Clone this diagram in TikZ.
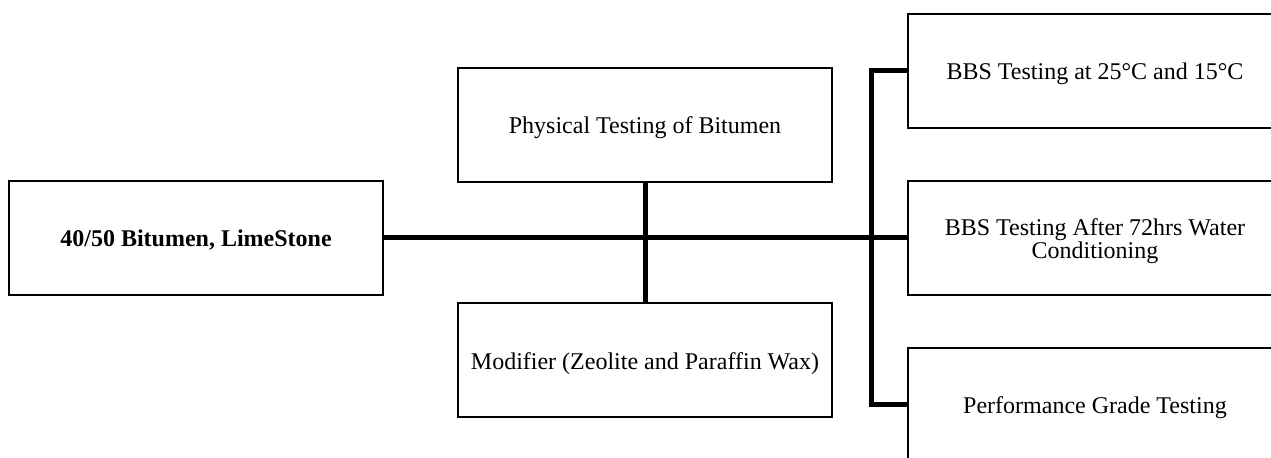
\documentclass[tikz,border=0pt]{standalone}
\usepackage{fontspec}
\setmainfont{Liberation Serif}
\usetikzlibrary{calc}

\begin{document}
\begin{tikzpicture}[x=0.5pt, y=-0.5pt, Kasten/.style={draw, line width=1pt, minimum width=187pt, minimum height=57pt, inner sep=0pt, align=center, text height=11.2pt, text depth=2.6pt, font=\fontsize{12}{11.5}\selectfont}, Linie/.style={line width=2.5pt}]
				\useasboundingbox (0,0) rectangle (1271,458);
				\coordinate (a) at (196,238);
				\node[Kasten, font=\fontsize{12}{11.5}\selectfont\bfseries] (start) at (a) {40/50 Bitumen, LimeStone};
				\coordinate (a) at ($(a) + (449,0)$);
				\node[Kasten] (m1) at ($(a) - (0,113)$) {Physical Testing of Bitumen};
				\node[Kasten] (m2) at ($(a) + (0,122.5)$) {Modifier (Zeolite and Paraffin Wax)};
				\coordinate (a) at ($(a) + (450,0)$);
				\coordinate (bus) at ($(a) - (224,0)$);
				\node[Kasten] (r1) at ($(a) - (0,167)$) {BBS Testing at 25°C and 15°C};
				\node[Kasten, text height=22.7pt] (r2) at (a) {BBS Testing After 72hrs Water\\Conditioning};
				\node[Kasten] (r3) at ($(a) + (0,167)$) {Performance Grade Testing};
				\draw[Linie] (start) -- (r2);
				\draw[Linie] (m1) -- (m2);
				\draw[Linie] (r1.west) -| (bus) |- (r3.west);
			\end{tikzpicture}
\end{document}
